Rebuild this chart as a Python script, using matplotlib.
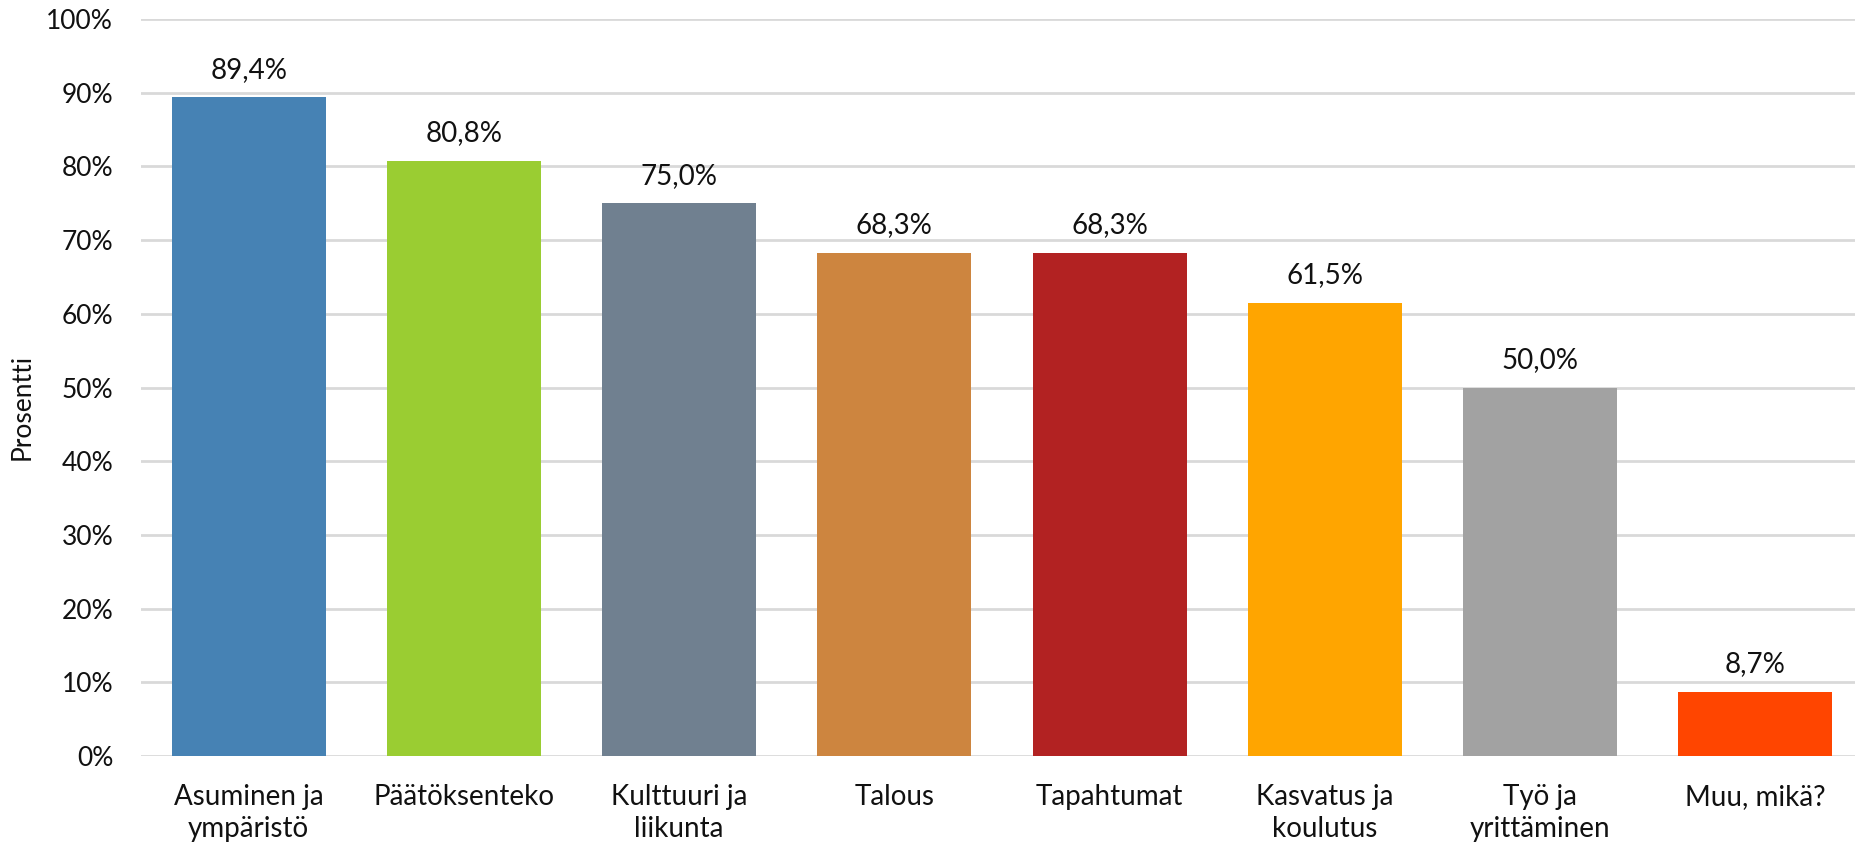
import matplotlib
matplotlib.use("Agg")
from matplotlib import pyplot as plt
from matplotlib.ticker import PercentFormatter

categories = ["Asuminen ja\nympäristö", "Päätöksenteko", "Kulttuuri ja\nliikunta", "Talous",
              "Tapahtumat", "Kasvatus ja\nkoulutus", "Työ ja\nyrittäminen", "Muu, mikä?"]
values = [89.4, 80.8, 75.0, 68.3, 68.3, 61.5, 50.0, 8.7]
colors = ["#4682B4", "#9ACD32", "#708090", "#CD853F", "#B22222", "#FFA500", "#A2A2A2", "#FF4500"]
yticks = list(range(0, 101, 10))

plt.rcParams['font.family'] = ['Lato', 'DejaVu Sans']

fig = plt.figure(figsize=(18.55, 8.52), dpi=100)
# plot area: 0% at y=756px, 100% at y=19px; right edge runs a little past the figure
ax = fig.add_axes([141 / 1855, 1 - 756 / 852, 1722 / 1855, (756 - 19) / 852])

x = list(range(len(values)))
bars = ax.bar(x, values, width=0.716, color=colors, zorder=3)

for rect, v in zip(bars, values):
    ax.annotate(f"{v:.1f}%".replace(".", ","),
                (rect.get_x() + rect.get_width() / 2, rect.get_height()),
                xytext=(0, 14), textcoords="offset points",
                ha="center", va="baseline", fontsize=20, color="#111111")

ax.set_xlim(-0.5, len(values) - 0.5)
ax.set_ylim(0, 100)
ax.set_yticks(yticks)
ax.yaxis.set_major_formatter(PercentFormatter(100, decimals=0))
ax.set_xticks(x, categories)
ax.tick_params(axis="both", length=0, labelsize=19, colors="#111111")
ax.tick_params(axis="y", pad=20)
ax.tick_params(axis="x", pad=20, labelsize=20)
for lbl in ax.get_xticklabels():
    lbl.set_linespacing(1.3)
ax.grid(axis="y", color="#D9D9D9", linewidth=2, zorder=0)
ax.set_axisbelow(True)
for s in ax.spines.values():
    s.set_visible(False)

ax.set_ylabel("Prosentti", fontsize=19, color="#111111", va="center")
ax.yaxis.set_label_coords((22 - 141) / 1722, 0.4735)

fig.savefig("out.png", dpi=100)
